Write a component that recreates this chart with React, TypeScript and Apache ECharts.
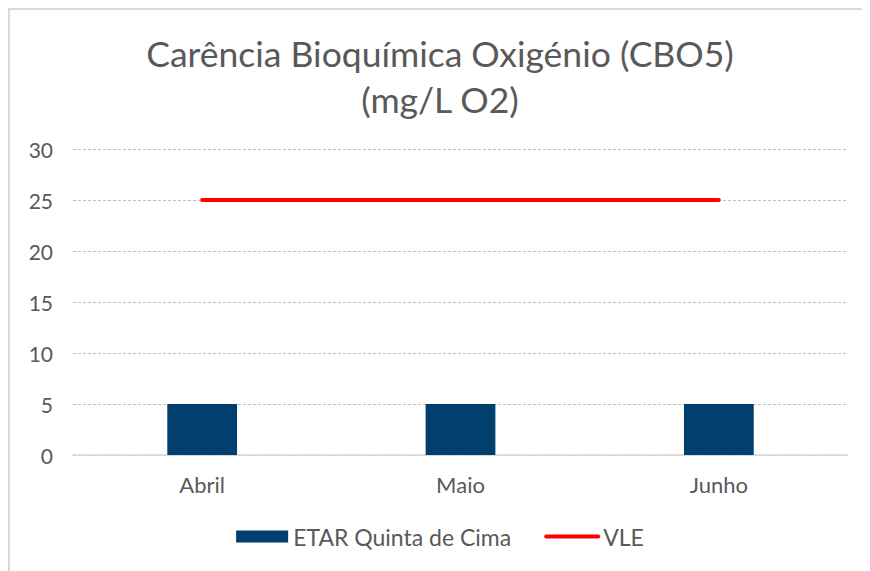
import React, { useEffect, useRef } from "react";
import * as echarts from "echarts";

const categories = ["Abril", "Maio", "Junho"];
const etarValues = [5, 5, 5];
const vleValues = [25, 25, 25];
const yTicks = { min: 0, max: 30, interval: 5 };
const titleLines = ["Carência Bioquímica Oxigénio (CBO5)", "(mg/L O2)"];

export default function App() {
  const ref = useRef<HTMLDivElement>(null);
  useEffect(() => {
    if (!ref.current) return;
    const chart = echarts.init(ref.current, null, { renderer: "svg" });
    const font = "Lato, 'Open Sans', sans-serif";
    const titleStyle = {
      fontFamily: font,
      fontSize: 35.5,
      fontWeight: "normal",
      color: "#595959",
    };
    chart.setOption({
      animation: false,
      textStyle: { fontFamily: font },
      title: [
        { text: titleLines[0], left: "center", top: 20, textStyle: titleStyle },
        { text: titleLines[1], left: "center", top: 66, textStyle: titleStyle },
      ],
      grid: { left: 63, right: 22, top: 139, bottom: 116, containLabel: false },
      xAxis: {
        type: "category",
        data: categories,
        axisTick: { show: false },
        axisLine: { lineStyle: { color: "#d9d9d9", width: 1.5 } },
        axisLabel: { color: "#595959", fontSize: 22, margin: 18, fontFamily: font },
      },
      yAxis: {
        type: "value",
        min: yTicks.min,
        max: yTicks.max,
        interval: yTicks.interval,
        axisLine: { show: false },
        axisTick: { show: false },
        axisLabel: { color: "#595959", fontSize: 21, margin: 20, fontFamily: font },
        splitLine: { lineStyle: { color: "#bfbfbf", type: [3, 2], width: 1 } },
      },
      legend: {
        bottom: 18,
        left: "center",
        itemGap: 33,
        itemWidth: 52,
        itemHeight: 12,
        textStyle: { color: "#595959", fontSize: 23, fontFamily: font },
        data: [
          { name: "ETAR Quinta de Cima", icon: "rect" },
          {
            name: "VLE",
            itemStyle: { color: "rgba(0,0,0,0)", borderWidth: 0, opacity: 0 },
            lineStyle: { width: 4, color: "#ff0000", cap: "round" },
          },
        ],
      },
      series: [
        {
          name: "ETAR Quinta de Cima",
          type: "bar",
          data: etarValues,
          barWidth: "27%",
          itemStyle: { color: "#003f6e" },
        },
        {
          name: "VLE",
          type: "line",
          data: vleValues,
          symbol: "none",
          showSymbol: false,
          lineStyle: { color: "#ff0000", width: 4, cap: "round" },
          itemStyle: { color: "#ff0000" },
        },
      ],
    });
    return () => chart.dispose();
  }, []);
  return (
    <div
      ref={ref}
      style={{
        width: 862,
        height: 563,
        borderLeft: "2px solid #d9d9d9",
        borderTop: "2px solid #d9d9d9",
        boxSizing: "border-box",
      }}
    />
  );
}
